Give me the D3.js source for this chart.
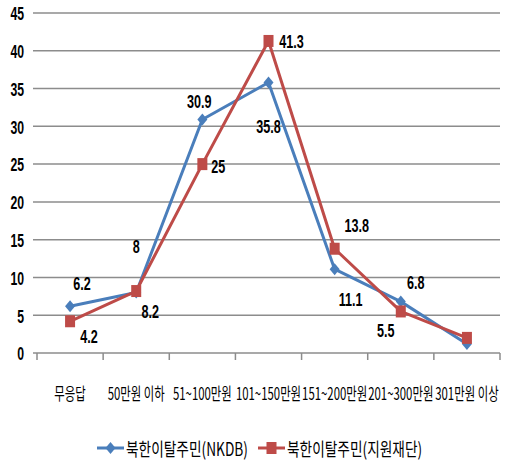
<!DOCTYPE html>
<html><head><meta charset="utf-8">
<script src="https://cdn.jsdelivr.net/npm/d3@7"></script>
<style>body{margin:0;background:#fff}svg{display:block}</style>
</head><body>
<svg id="c" width="507" height="469"></svg>
<script>
const categories = ["무응답","50만원 이하","51~100만원","101~150만원","151~200만원","201~300만원","301만원 이상"];
const seriesNames = ["북한이탈주민(NKDB)","북한이탈주민(지원재단)"];
const nkdb = [6.2, 8, 30.9, 35.8, 11.1, 6.8, 1.2];
const foundation = [4.2, 8.2, 25, 41.3, 13.8, 5.5, 2.0];
const nkdbLabels = ["6.2","8","30.9","35.8","11.1","6.8",null];
const foundationLabels = ["4.2","8.2","25","41.3","13.8","5.5",null];
const yTicks = [0,5,10,15,20,25,30,35,40,45];

// label placement offsets (dx, dy) from the marker
const nkdbOffsets = [[12,-23],[0,-46],[-3,-18],[0,44],[16,30],[15,-19],[0,0]];
const foundationOffsets = [[19,15],[14,21],[16,3],[23,1],[22,-23],[-15,19],[0,0]];

const colors = ["#4a7ebb","#be4b48"];
const svg = d3.select("#c");
const x = d3.scaleBand().domain(categories).range([37,500]);
const y = d3.scaleLinear().domain([0,45]).range([353,13]);

// gridlines
svg.append("g").selectAll("line").data(yTicks).join("line")
  .attr("x1",33).attr("x2",500)
  .attr("y1",d=>y(d)).attr("y2",d=>y(d))
  .attr("stroke","#8c8c8c").attr("stroke-width",1.5);

// bottom ticks at category boundaries
const bounds = categories.map(c=>x(c)).concat([x.range()[1]]);
svg.append("g").selectAll("line").data(bounds).join("line")
  .attr("x1",d=>d).attr("x2",d=>d).attr("y1",y(0)).attr("y2",y(0)+7)
  .attr("stroke","#8c8c8c").attr("stroke-width",1.5);

const numFont = "'Liberation Sans', Arial, sans-serif";
const krFont = "'Noto Sans CJK KR', 'Noto Sans', sans-serif";

function scaledText(g, tx, ty, str, opts){
  const t = g.append("g").attr("transform",`translate(${tx},${ty}) scale(${opts.sx},1)`)
    .append("text").text(str)
    .attr("text-anchor",opts.anchor||"middle")
    .attr("dominant-baseline","central")
    .attr("font-family",opts.font)
    .attr("font-size",opts.size)
    .attr("font-weight",opts.weight||"normal")
    .attr("fill","#000");
  return t;
}

// y tick labels
const yl = svg.append("g");
yTicks.forEach(v=>scaledText(yl, 24, y(v)+1, String(v), {sx:0.7, anchor:"end", font:numFont, size:17.5, weight:"bold"}));

// x labels
const xl = svg.append("g");
categories.forEach(c=>scaledText(xl, x(c)+x.bandwidth()/2, 392, c, {sx:0.67, font:krFont, size:17}));

const cx = c => x(c)+x.bandwidth()/2;
const line = d3.line().x((d,i)=>cx(categories[i])).y(d=>y(d));

const allSeries = [nkdb, foundation];
allSeries.forEach((s,si)=>{
  svg.append("path").datum(s).attr("d",line).attr("fill","none")
    .attr("stroke",colors[si]).attr("stroke-width",3).attr("stroke-linejoin","round");
});

function diamond(g, px, py, col){
  g.append("path").attr("d",`M${px},${py-6}L${px+5},${py}L${px},${py+6}L${px-5},${py}Z`).attr("fill",col);
}
function square(g, px, py, col){
  g.append("rect").attr("x",px-5).attr("y",py-6).attr("width",10).attr("height",12).attr("fill",col);
}
const mk = svg.append("g");
nkdb.forEach((v,i)=>diamond(mk, cx(categories[i]), y(v), colors[0]));
foundation.forEach((v,i)=>square(mk, cx(categories[i]), y(v), colors[1]));

// data labels
const dl = svg.append("g");
const lblOpts = {sx:0.7, font:numFont, size:18, weight:"bold"};
nkdb.forEach((v,i)=>{ if(nkdbLabels[i]) scaledText(dl, cx(categories[i])+nkdbOffsets[i][0], y(v)+nkdbOffsets[i][1], nkdbLabels[i], lblOpts); });
foundation.forEach((v,i)=>{ if(foundationLabels[i]) scaledText(dl, cx(categories[i])+foundationOffsets[i][0], y(v)+foundationOffsets[i][1], foundationLabels[i], lblOpts); });

// legend
const lg = svg.append("g");
const legendX = [97, 258];
const ly = 448;
seriesNames.forEach((n,i)=>{
  const x0 = legendX[i];
  lg.append("line").attr("x1",x0).attr("x2",x0+27).attr("y1",ly).attr("y2",ly)
    .attr("stroke",colors[i]).attr("stroke-width",3);
  if(i===0) diamond(lg, x0+13.5, ly, colors[i]); else square(lg, x0+13.5, ly, colors[i]);
  scaledText(lg, x0+29, ly, n, {sx:0.74, anchor:"start", font:krFont, size:18.5});
});
</script>
</body></html>
